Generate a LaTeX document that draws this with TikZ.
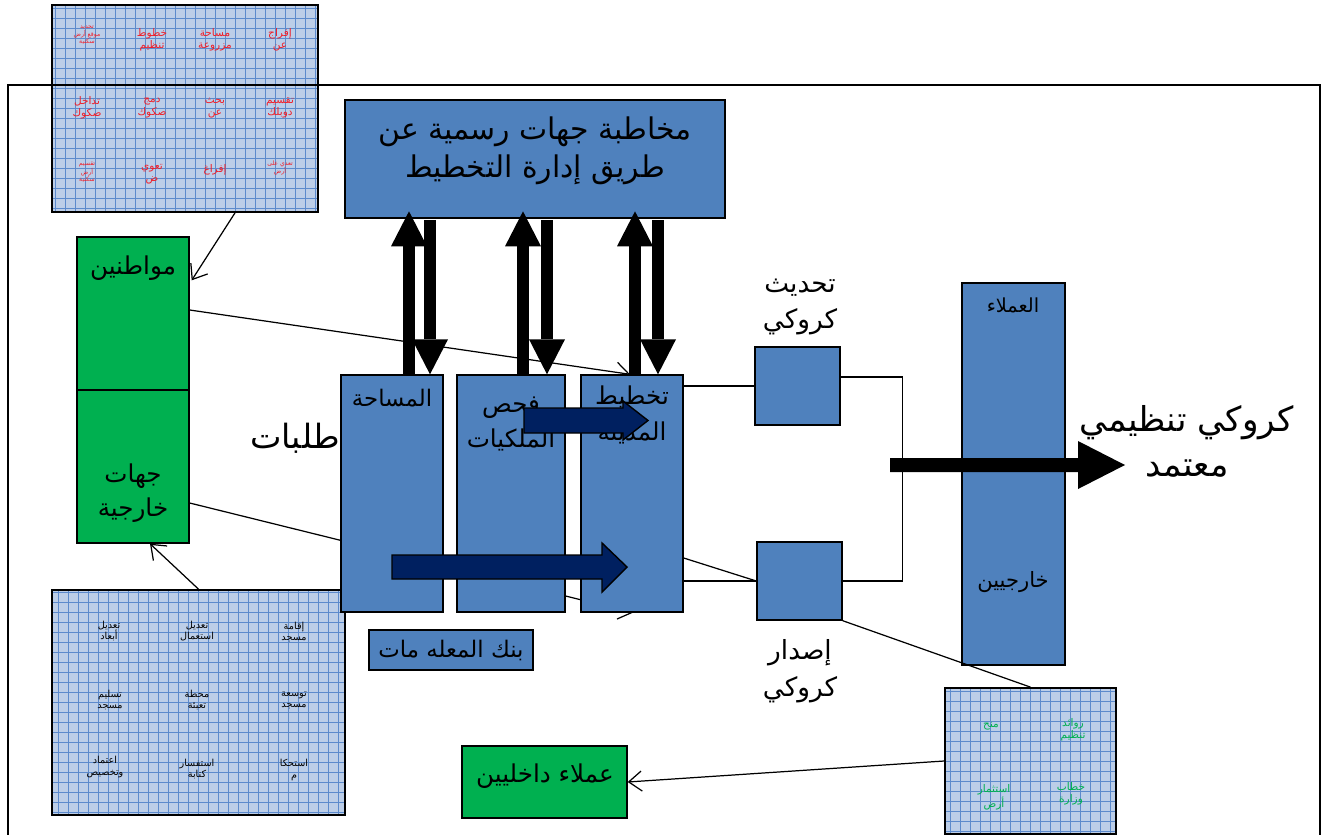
\documentclass[tikz,border=0pt]{standalone}
\usepackage{fontspec}
\newfontfamily\arabicfont[Script=Arabic]{DejaVu Sans}
\TeXXeTstate=1
\usetikzlibrary{arrows.meta,calc,backgrounds}
\definecolor{boxblue}{RGB}{79,129,189}
\definecolor{citgreen}{RGB}{0,176,80}
\definecolor{navyfill}{RGB}{0,32,96}
\definecolor{gridfill}{RGB}{188,206,232}
\definecolor{gridline}{RGB}{92,138,204}
\definecolor{tagred}{RGB}{240,30,40}
\newcommand{\artxt}[1]{\beginR#1\endR}

\begin{document}
\begin{tikzpicture}[x=0.02cm, y=-0.02cm,
  bluebox/.style={draw=black, line width=0.8pt, fill=boxblue, inner sep=0pt, align=center, font=\arabicfont},
  greenbox/.style={draw=black, line width=0.8pt, fill=citgreen, inner sep=0pt, align=center, font=\arabicfont},
  gridpanel/.style={draw=black, line width=1pt, fill=gridfill, inner sep=0pt,
    path picture={\draw[gridline, line width=0.35pt, step=0.2cm] (path picture bounding box.south west) grid (path picture bounding box.north east);}},
  lbl/.style={align=center, inner sep=1pt},
  tinytxt/.style={font=\arabicfont\fontsize{5.5}{6.5}\selectfont, align=center, inner sep=0pt},
  conn/.style={black, line width=0.7pt},
  barb/.style={conn, -{Straight Barb[length=2.6mm, width=4mm]}},
  blockarr/.style={line width=0.24cm, -{Triangle[length=0.7cm, width=0.72cm, line width=0pt]}}
]
\useasboundingbox (0,0) rectangle (1322,835);
\clip (0,0) rectangle (1322,835);

% ---- request panels ----
\node[gridpanel, minimum width=5.32cm, minimum height=4.14cm] (tlgrid) at (185,108.5) {};
\foreach \x/\y/\ta/\tb [count=\i] in {152/40/خطوط/تنظيم, 215/40/مساحة/مزروعة, 280/40/إفراج/عن,
  87/108/تداخل/صكوك, 152/108/دمج/صكوك, 215/108/بحث/عن, 280/108/تقسيم/دوبلك, 152/174/تعوي/ض}{
  \node[tinytxt, text=tagred, font=\arabicfont\fontsize{6}{7}\selectfont] (tlt\i) at (\x,\y) {\artxt{\ta}\\\artxt{\tb}};
}
\node[tinytxt, text=tagred, font=\arabicfont\fontsize{6}{7}\selectfont] (tlt9) at (215,170) {\artxt{إفراغ}};
\node[tinytxt, text=tagred, font=\arabicfont\fontsize{3.5}{4}\selectfont] (tlt10) at (87,35) {\artxt{تحديد}\\\artxt{موقع أرض}\\\artxt{سكنية}};
\node[tinytxt, text=tagred, font=\arabicfont\fontsize{3.5}{4}\selectfont] (tlt11) at (87,172) {\artxt{تقسيم}\\\artxt{أرض}\\\artxt{سكنية}};
\node[tinytxt, text=tagred, font=\arabicfont\fontsize{3.5}{4.5}\selectfont] (tlt12) at (280,168) {\artxt{تعدي على}\\\artxt{أرض}};

% outer frame
\draw[line width=1.2pt] (8,85) rectangle (1320,900);

\node[gridpanel, minimum width=5.86cm, minimum height=4.5cm] (blgrid) at (198.5,702.5) {};
\foreach \x/\y/\ta/\tb [count=\i] in {109/631/تعديل/أبعاد, 197/631/تعديل/استعمال, 294/632/إقامة/مسجد,
  110/700/تسليم/مسجد, 197/700/محطة/تعبئة, 294/700/توسعة/مسجد,
  105/767/اعتماد/وتخصيص, 197/769/استفسار/كتابة, 294/770/استحكا/م}{
  \node[tinytxt] (blt\i) at (\x,\y) {\artxt{\ta}\\\artxt{\tb}};
}

\node[gridpanel, minimum width=3.42cm, minimum height=2.92cm] (brgrid) at (1030.5,761) {};
\foreach \x/\y/\ta/\tb [count=\i] in {1073/730/زوائد/تنظيم, 994/797/استثمار/أرض, 1071/794/خطاب/وزارة}{
  \node[tinytxt, text=citgreen, font=\arabicfont\fontsize{6}{7}\selectfont] (brt\i) at (\x,\y) {\artxt{\ta}\\\artxt{\tb}};
}
\node[tinytxt, text=citgreen, font=\arabicfont\fontsize{6}{7}\selectfont] (brt4) at (991,726) {\artxt{منح}};

% ---- main boxes ----
\node[bluebox, minimum width=7.6cm, minimum height=2.36cm] (letters) at (535,159) {};
\node[lbl, font=\arabicfont\fontsize{17}{21.6}\selectfont] (letterslbl) at (535,151) {\artxt{مخاطبة جهات رسمية عن}\\\artxt{طريق إدارة التخطيط}};

\node[greenbox, minimum width=2.24cm, minimum height=3.06cm] (cit) at (133,313.5) {};
\node[greenbox, minimum width=2.24cm, minimum height=3.06cm] (ext) at (133,466.5) {};
\node[lbl, font=\arabicfont\fontsize{14}{18}\selectfont] (citlbl) at (133,268) {\artxt{مواطنين}};
\node[lbl, font=\arabicfont\fontsize{14}{19}\selectfont] (extlbl) at (133,493) {\artxt{جهات}\\\artxt{خارجية}};

\node[bluebox, minimum width=2.04cm, minimum height=4.74cm] (survey) at (392,493.5) {};
\node[bluebox, minimum width=2.16cm, minimum height=4.74cm] (owner) at (511,493.5) {};
\node[bluebox, minimum width=2.04cm, minimum height=4.74cm] (plan) at (632,493.5) {};
\node[lbl, font=\arabicfont\fontsize{13}{18}\selectfont] (surveylbl) at (392,398) {\artxt{المساحة}};
\node[lbl, font=\arabicfont\fontsize{14}{20}\selectfont] (ownerlbl) at (511,424) {\artxt{فحص}\\\artxt{الملكيات}};
\node[lbl, font=\arabicfont\fontsize{14}{20}\selectfont] (planlbl) at (632,415) {\artxt{تخطيط}\\\artxt{المدينة}};
\node[lbl, font=\arabicfont\fontsize{19}{22}\selectfont] (reqlbl) at (295,438) {\artxt{طلبات}};

\node[bluebox, minimum width=3.28cm, minimum height=0.8cm, font=\arabicfont\fontsize{13}{18}\selectfont] (bank) at (451,650) {\artxt{بنك المعله مات}};

\node[bluebox, minimum width=1.7cm, minimum height=1.56cm] (upd) at (797.5,386) {};
\node[bluebox, minimum width=1.7cm, minimum height=1.56cm] (iss) at (799.5,581) {};
\node[lbl, font=\arabicfont\fontsize{15}{21}\selectfont] (updlbl) at (800,307) {\artxt{تحديث}\\\artxt{كروكي}};
\node[lbl, font=\arabicfont\fontsize{15}{21}\selectfont] (isslbl) at (800,671) {\artxt{إصدار}\\\artxt{كروكي}};

\node[bluebox, minimum width=2.06cm, minimum height=7.64cm] (clients) at (1013.5,474) {};
\node[lbl, font=\arabicfont\fontsize{11}{14}\selectfont] (clientslbl) at (1013,305) {\artxt{العملاء}};
\node[lbl, font=\arabicfont\fontsize{12}{14}\selectfont] (outlbl) at (1013,582) {\artxt{خارجيين}};

\node[lbl, font=\arabicfont\fontsize{19.5}{25.6}\selectfont] (resultlbl) at (1187,441) {\artxt{كروكي تنظيمي}\\\artxt{معتمد}};

\node[greenbox, minimum width=3.3cm, minimum height=1.44cm] (intc) at (544.5,782) {};
\node[lbl, font=\arabicfont\fontsize{14}{18}\selectfont] (intclbl) at (545,776) {\artxt{عملاء داخليين}};

% ---- connectors ----
\begin{scope}[on background layer]
  \draw[barb] ($(cit.east)+(0,-3.5)$) -- ($(plan.north)+(-2,0)$);
  \draw[barb] ($(ext.east)+(0,36.5)$) -- ($(plan.south)+(1,0)$);
\end{scope}
\draw[conn] (upd.west -| plan.east) -- (upd.west);
\draw[conn] (iss.west -| plan.east) -- (iss.west);
\draw[conn] ($(plan.east)+(0,64.5)$) -- (iss.west);
\draw[conn] ($(upd.east)+(0,-9)$) -- ++(62,0) |- (iss.east);
\draw[conn] (iss.south east) -- (brgrid.north);
\draw[barb] ($(tlgrid.south)+(50,0)$) -- ($(cit.north east)+(2,44)$);
\draw[barb] (blgrid.north) -- ($(ext.south)+(17,0)$);
\draw[barb] (brgrid.west) -- (intc.east);

% up / down exchange with the planning office
\foreach \b/\du/\dd in {survey/17/38, owner/12/36, plan/3/26}{
  \draw[blockarr] ($(\b.north)+(\du,0)$) -- ($(\b.north)+(\du,-163)$);
  \draw[blockarr] ($(\b.north)+(\dd,-154)$) -- ($(\b.north)+(\dd,0)$);
}

% flow arrows
\draw[line width=0.8pt, fill=navyfill] (524,408) -- (623,408) -- (623,401) -- (648,420.5) -- (623,440) -- (623,433) -- (524,433) -- cycle;
\draw[line width=0.8pt, fill=navyfill] (392,555) -- (602,555) -- (602,543) -- (627,567) -- (602,592) -- (602,579) -- (392,579) -- cycle;
\fill (890,458) -- (1078,458) -- (1078,441) -- (1125,465) -- (1078,489) -- (1078,472) -- (890,472) -- cycle;
\end{tikzpicture}
\end{document}
